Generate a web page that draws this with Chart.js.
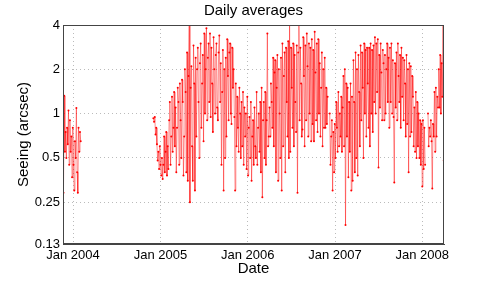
<!DOCTYPE html>
<html><head><meta charset="utf-8">
<script src="https://cdn.jsdelivr.net/npm/chart.js@4.4.0/dist/chart.umd.min.js"></script>
<style>html,body{margin:0;padding:0;background:#fff}</style>
</head><body>
<canvas id="c" width="491" height="283"></canvas>
<script>
const chartTitle = 'Daily averages';
const xLabel = 'Date';
const yLabel = 'Seeing (arcsec)';
// x axis: days since 1 Jan 2004
const xTickDays = [0, 366, 731, 1096, 1461];
const xTickLabels = ['Jan 2004', 'Jan 2005', 'Jan 2006', 'Jan 2007', 'Jan 2008'];
const yTicks = [0.13, 0.25, 0.5, 1, 2, 4];
const yTickLabels = ['0.13', '0.25', '0.5', '1', '2', '4'];
const stepDays = 3;
const seg1StartDay = -40;
const seg1Values = [0.29, 1.32, 0.55, 0.75, 0.5, 0.8, 0.62, 1.05, 0.45, 0.9, 0.55, 0.7, 0.37, 0.8, 0.45, 0.3, 0.65, 0.5, 1.09, 0.4, 0.29, 0.8, 0.55, 0.75, 0.65];
const seg2StartDay = 336;
const seg2Values = [
  0.93, 0.88, 0.95, 0.72, 0.8, 0.62,
  0.48, 0.55, 0.42, 0.6, 0.45, 0.38, 0.5, 0.36,
  0.45, 0.7, 0.4, 0.55, 0.75, 0.38, 0.6,
  0.42, 0.9, 1.2, 0.45, 0.7, 1.3, 0.55, 0.8, 1.4, 0.6,
  1.1, 0.4, 0.8, 1.5, 1.2, 0.45, 1.6, 0.9, 0.5, 1.7,
  1.2, 0.38, 0.7, 2.0, 1.4, 0.4, 2.6, 0.35,
  1.8, 4.0, 0.25,
  1.5, 2.1, 0.6, 0.35, 2.9, 1.6, 0.3, 2.4, 0.7, 2.0,
  2.8, 1.2, 0.5, 2.2, 3.0, 0.8, 1.6, 2.5, 0.65, 3.5, 1.0,
  2.0, 3.8, 0.9, 2.4, 3.0, 1.2, 3.5,
  0.95, 2.8, 1.6, 0.75, 3.3, 2.0, 1.0, 2.5, 3.0, 1.1, 0.9, 2.6, 3.4, 1.2,
  2.2, 0.45, 1.4, 2.7, 0.3, 2.0, 0.5, 2.4,
  0.7, 3.2, 1.8, 0.9, 2.6, 3.0, 1.0, 0.85, 2.8, 1.5,
  2.0, 0.95, 0.3, 1.6,
  0.6, 1.3, 0.8, 0.55, 1.5, 1.0, 0.5, 1.2, 0.6, 1.4,
  0.45, 1.1, 0.7, 1.0, 0.42, 1.3, 0.38, 0.8, 0.95, 0.5,
  1.2, 0.35, 0.7, 0.9, 0.45, 1.1, 0.6, 0.5, 1.4, 0.45, 0.8, 1.0, 0.55,
  1.2, 0.4, 1.5, 0.27, 0.9, 1.2,
  0.5, 1.4, 0.45, 0.9, 3.5, 0.6, 0.7,
  1.1, 0.7, 1.6, 1.2, 0.8, 2.4, 0.6, 1.9,
  2.3, 0.4, 1.5, 2.5, 0.35, 2.0, 1.0, 0.5, 2.4, 0.3,
  3.0, 0.6, 1.8, 2.6, 0.4, 2.8, 1.2, 0.7, 3.1, 0.5,
  4.0, 0.55, 2.8, 1.5, 0.8, 3.0, 0.6, 2.5, 1.2, 0.75, 2.9,
  0.29, 2.6, 4.0, 0.9, 2.8, 1.6, 0.7,
  0.78, 3.3, 1.8, 0.6, 2.9, 0.9, 3.5, 2.1, 0.7, 3.0, 1.0, 2.8, 0.65, 3.2,
  0.85, 2.7, 0.65, 3.6, 1.9, 0.9, 3.0,
  0.75, 3.2, 1.0, 2.2, 0.7, 1.5, 2.6, 0.6, 2.0, 0.8, 2.4,
  0.8, 1.5, 0.85, 1.3,
  null, null,
  1.0, 0.45, 0.7, 0.9, 0.3, 0.75, 0.4, 0.85,
  0.5, 1.2, 0.8, 0.55, 1.4, 0.6, 1.0, 0.7, 1.3, 0.55,
  1.1, 1.8, 0.6, 2.0, 0.175, 1.6,
  0.7, 1.5, 0.37, 1.2, 0.55, 1.6, 0.3,
  1.3, 0.35, 2.3, 1.2, 0.4, 2.6, 0.5,
  2.0, 0.38, 2.5, 1.4, 0.6, 2.9, 0.9, 2.6, 1.5, 0.5, 3.0,
  1.0, 2.7, 0.7, 2.8, 1.6, 0.8, 2.8, 0.6,
  3.0, 1.0, 2.7, 0.75, 2.9, 1.2, 3.3,
  1.0, 3.0, 1.4, 3.2, 0.43, 2.5,
  1.1, 3.0, 1.9, 0.9, 2.7, 2.2, 0.9, 2.5,
  1.0, 2.0, 3.0, 1.2, 2.4, 0.8,
  2.8, 1.2, 3.0, 1.0,
  2.3, 0.95, 0.34, 2.2, 1.1, 2.6, 0.9, 3.0, 1.8, 1.2,
  2.5, 0.8, 2.8, 1.3, 2.4, 0.9, 2.3, 1.6,
  0.7, 2.5, 0.85, 2.0, 0.4, 2.2, 0.7,
  2.1, 0.75, 1.8, 1.3, 0.6, 1.1, 0.55, 1.4, 0.5, 1.2,
  0.6, 1.0, 0.5, 0.9,
  0.45, 0.85, 0.32, 0.9,
  0.42, 0.8, 0.45,
  null, null, null,
  1.0, 0.6, 0.8,
  0.7, 0.9, 0.65, 0.31, 0.85, 0.7,
  1.4, 0.55, 1.5, 0.7, 1.3, 1.1,
  2.0, 1.1, 2.5, 1.0, 2.2, 1.3,
  4.0, 0.48, 2.0
];

const points = [];
seg1Values.forEach((v, i) => points.push({x: seg1StartDay + i * stepDays, y: v}));
points.push({x: (seg1StartDay + seg2StartDay) / 2, y: null});
seg2Values.forEach((v, i) => points.push({x: seg2StartDay + i * stepDays, y: v}));

const frame = {
  id: 'frame',
  afterLayout(chart) {
    // centre the title over the plot area, as in the reference
    if (chart.titleBlock) {
      chart.titleBlock.left = chart.chartArea.left;
      chart.titleBlock.right = chart.chartArea.right;
    }
  },
  afterDraw(chart) {
    const {ctx, chartArea: a} = chart;
    ctx.save();
    ctx.strokeStyle = '#444';
    ctx.lineWidth = 1;
    ctx.strokeRect(Math.round(a.left) + 0.5, Math.round(a.top) + 0.5, Math.round(a.right - a.left) - 1, Math.round(a.bottom - a.top) - 1);
    ctx.restore();
  }
};

const font = 'Liberation Sans, Arial, Helvetica, sans-serif';
new Chart(document.getElementById('c'), {
  type: 'line',
  data: {
    datasets: [{
      data: points,
      borderColor: 'rgba(255,0,0,0.45)',
      borderWidth: 1,
      pointRadius: 1,
      pointBackgroundColor: '#ff0000',
      pointBorderWidth: 0,
      spanGaps: false,
      tension: 0
    }]
  },
  options: {
    responsive: false,
    animation: false,
    devicePixelRatio: 1,
    layout: {padding: {left: 0, right: 47, top: 0, bottom: 0}},
    plugins: {
      legend: {display: false},
      tooltip: {enabled: false},
      title: {
        display: true, text: chartTitle, color: '#000',
        font: {family: font, size: 15, weight: 'normal'},
        padding: {top: 2, bottom: 5}
      }
    },
    scales: {
      x: {
        type: 'linear', min: -42, max: 1552,
        afterBuildTicks: s => { s.ticks = xTickDays.map(v => ({value: v})); },
        afterFit: s => { s.height = 39; },
        ticks: {
          color: '#000', font: {family: font, size: 13}, padding: 4, maxRotation: 0,
          callback: v => { const i = xTickDays.indexOf(v); return i >= 0 ? xTickLabels[i] : ''; }
        },
        grid: {color: '#bbb', drawTicks: false},
        border: {display: true, color: '#444', dash: [1, 3]},
        title: {display: true, text: xLabel, color: '#000', font: {family: font, size: 15}, padding: {top: 0, bottom: 5}}
      },
      y: {
        type: 'logarithmic', min: 0.13, max: 4,
        afterBuildTicks: s => { s.ticks = yTicks.map(v => ({value: v})); },
        afterFit: s => { s.width = 63; },
        ticks: {
          color: '#000', font: {family: font, size: 13}, padding: 3,
          callback: v => { const i = yTicks.indexOf(v); return i >= 0 ? yTickLabels[i] : ''; }
        },
        grid: {color: '#bbb', drawTicks: false},
        border: {display: true, color: '#444', dash: [1, 3]},
        title: {display: true, text: yLabel, color: '#000', font: {family: font, size: 15}, padding: {top: 15, bottom: 0}}
      }
    }
  },
  plugins: [frame]
});
</script>
</body></html>
